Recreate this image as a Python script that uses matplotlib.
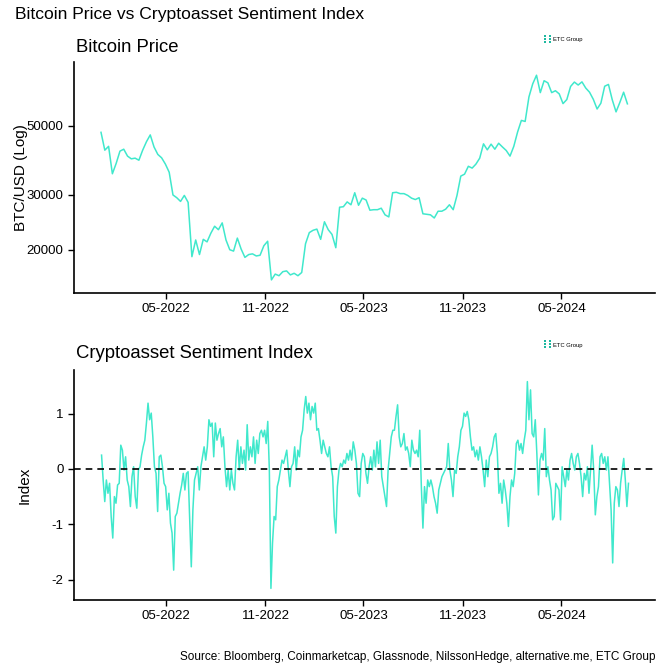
import numpy as np
import pandas as pd
import matplotlib
matplotlib.use("Agg")
import matplotlib.pyplot as plt
import matplotlib.dates as mdates
import matplotlib.ticker as mticker
from matplotlib.patches import Rectangle

plt.rcParams['font.family'] = ['Liberation Sans', 'DejaVu Sans']
plt.rcParams['axes.unicode_minus'] = False

LINE = "#40E8CC"

# weekly BTC/USD, first value 2022-01-01, every 7 days
btc_2022 = [47700, 41800, 43000, 35100, 37900, 41500, 42100, 40000, 39200, 39400,
            38800, 41800, 44500, 46800, 42800, 40500, 39500, 37700, 35500, 30000,
            29400, 28600, 29900, 28400, 19000, 21500, 19300, 21600, 21200, 22600,
            23800, 23200, 24400, 21500, 20000, 19800, 21800, 20100, 18900, 19300,
            19400, 19100, 19200, 20600, 21300, 16000, 16700, 16500, 17000, 17100,
            16600, 16800, 16500]
btc_2023 = [16900, 20900, 22700, 23100, 23300, 21600, 24600, 23200, 22400, 20300,
            27400, 27500, 28500, 27900, 30500, 27800, 29300, 28900, 26800, 26900,
            26900, 27200, 25900, 25500, 30500, 30600, 30300, 30300, 29900, 29300,
            29000, 29400, 26100, 26000, 25900, 25300, 26600, 26600, 27000, 27900,
            26900, 29900, 34500, 35000, 37100, 36600, 37700, 39400, 43800, 41900,
            43700, 42100]
btc_2024 = [44000, 42800, 41700, 40000, 43000, 47800, 52100, 51700, 62000, 68300,
            72800, 64000, 69900, 68800, 64000, 64900, 63400, 59000, 60800, 67000,
            69200, 67700, 69300, 66200, 64200, 60900, 56700, 59200, 67100, 68000,
            60700, 55500, 59500, 64200, 58900]

# sentiment index, four stretches (start, end, values)
sent_a = ("2022-01-02", "2022-08-24", [
    0.25, -0.20, -0.59, -0.20, -0.44, -0.26, -0.86, -1.25, -0.50, -0.62,
    -0.29, -0.26, 0.43, 0.34, -0.02, 0.22, -0.20, -0.32, -0.68, -0.14,
    0.04, -0.50, -0.71, -0.02, 0.04, 0.25, 0.40, 0.52, 0.83, 1.19,
    0.89, 1.01, 0.58, 0.04, -0.08, -0.77, 0.22, 0.25, 0.04, -0.26,
    -0.32, -0.74, -0.44, -0.98, -1.16, -1.83, -0.86, -0.80, -0.62, -0.44,
    -0.29, -0.08, -0.38, -0.08, -0.05, -0.92, -1.77, -0.74, -0.20, -0.08,
    0.04, -0.38, 0.04, 0.22, 0.40, 0.16, 0.40, 0.89, 0.77, 0.83,
    0.22, 0.83, 0.52, 0.64, 0.73, 0.40, 0.58, 0.04, -0.32, -0.02])
sent_b = ("2022-08-27", "2023-04-21", [
    -0.38, -0.02, -0.26, -0.38, 0.22, 0.52, -0.02, 0.40, 0.10, 0.34,
    -0.02, 0.80, 0.16, 0.40, 0.22, 0.58, 0.10, 0.52, 0.28, 0.64,
    0.70, 0.58, 0.70, 0.46, 0.86, -0.02, -2.16, -1.34, -0.86, -0.92,
    -0.32, -0.20, -0.02, 0.16, 0.10, 0.22, 0.34, -0.02, -0.32, 0.04,
    0.10, 0.40, -0.02, 0.34, 0.22, 0.58, 0.70, 1.07, 1.31, 1.01,
    1.19, 0.89, 1.13, 1.01, 1.19, 0.70, 0.73, 0.52, 0.28, 0.52,
    0.40, 0.28, 0.22, 0.40, 0.04, -0.14, -0.86, -1.16, -0.32, -0.02,
    0.10, 0.04, 0.16, 0.10, 0.28, 0.16, 0.34, 0.16, 0.49, 0.34,
    0.10, -0.44])
sent_c = ("2023-04-24", "2023-12-17", [
    -0.50, 0.10, 0.28, 0.22, -0.08, -0.26, 0.04, 0.22, -0.02, 0.34,
    0.04, 0.49, 0.10, 0.52, -0.14, -0.32, -0.50, -0.68, -0.02, 0.28,
    0.58, 0.70, 0.70, 0.95, 1.16, 0.58, 0.40, 0.46, 0.64, 0.34,
    0.40, 0.28, 0.04, 0.52, 0.34, 0.28, 0.34, 0.22, 0.70, -0.32,
    -1.07, -0.32, -0.62, -0.20, -0.32, -0.20, -0.32, -0.50, -0.62, -0.80,
    -0.38, -0.26, -0.14, -0.08, -0.02, 0.04, 0.46, -0.02, -0.20, -0.50,
    -0.02, -0.08, 0.22, 0.40, 0.70, 0.77, 1.01, 0.95, 1.04, 0.89,
    0.58, 0.34, 0.40, 0.22, 0.34, 0.16, 0.40, 0.22, -0.02, -0.32,
    0.16, -0.14])
sent_d = ("2023-12-20", "2024-09-02", [
    0.22, 0.28, 0.40, 0.58, 0.64, 0.28, -0.44, -0.26, -0.62, -0.20,
    -0.38, -0.62, -1.04, -0.50, -0.20, -0.32, -0.08, 0.46, 0.52, 0.34,
    0.46, 0.28, 0.52, 0.70, 1.58, 0.89, 1.43, 0.64, 0.58, 0.89,
    0.28, -0.47, 0.16, 0.28, 0.16, 0.73, -0.14, 0.04, -0.20, -0.38,
    -0.92, -0.86, -0.26, -0.32, -0.38, -0.92, 0.04, -0.14, -0.32, -0.02,
    -0.20, 0.16, 0.28, 0.10, -0.02, 0.22, 0.28, 0.10, -0.14, -0.50,
    -0.08, -0.20, 0.04, -0.44, -0.02, 0.43, -0.02, -0.83, -0.50, -0.32,
    0.22, 0.28, 0.10, 0.22, -0.02, 0.22, -0.26, -0.74, -1.70, -0.62,
    -0.32, -0.38, -0.68, -0.26, -0.02, 0.19, -0.20, -0.68, -0.26])

btc = btc_2022 + btc_2023 + btc_2024
btc_dates = pd.date_range("2022-01-01", periods=len(btc), freq="7D")

sent_dates = []
sent = []
for start, end, vals in (sent_a, sent_b, sent_c, sent_d):
    sent_dates.extend(pd.date_range(start, end, periods=len(vals)))
    sent.extend(vals)

xmin, xmax = pd.Timestamp("2021-11-12"), pd.Timestamp("2024-10-21")

fig = plt.figure(figsize=(6.7, 6.7), dpi=100)
ax1 = fig.add_axes([0.1104, 0.5627, 0.8672, 0.3448])
ax2 = fig.add_axes([0.1104, 0.1045, 0.8672, 0.3433])

ax1.plot(btc_dates, btc, color=LINE, lw=1.1)
ax1.set_yscale("log")
ax1.set_ylim(14520, 80300)
ax1.yaxis.set_major_locator(mticker.FixedLocator([20000, 30000, 50000]))
ax1.yaxis.set_major_formatter(mticker.FuncFormatter(lambda v, p: "%d" % v))
ax1.yaxis.set_minor_locator(mticker.NullLocator())
ax1.set_ylabel("BTC/USD (Log)", fontsize=11, labelpad=-1)

ax2.plot(sent_dates, sent, color=LINE, lw=1.1)
ax2.axhline(0, color="black", lw=1.2, ls=(0, (4, 3)))
ax2.set_ylim(-2.37, 1.79)
ax2.set_yticks([-2, -1, 0, 1])
ax2.set_ylabel("Index", fontsize=11, labelpad=14)

for ax in (ax1, ax2):
    ax.set_xlim(xmin, xmax)
    ax.xaxis.set_major_locator(mdates.MonthLocator(bymonth=[5, 11]))
    ax.xaxis.set_major_formatter(mdates.DateFormatter("%m-%Y"))
    for s in ("top", "right"):
        ax.spines[s].set_visible(False)
    for s in ("left", "bottom"):
        ax.spines[s].set_linewidth(1.2)
    ax.tick_params(direction="out", length=4, width=1, labelsize=9.5, colors="black")

fig.text(15 / 670, 1 - 15 / 670, "Bitcoin Price vs Cryptoasset Sentiment Index",
         fontsize=12.6, va="center", ha="left")
fig.text(76 / 670, 1 - 47 / 670, "Bitcoin Price", fontsize=13.3, va="center", ha="left")
fig.text(76 / 670, 1 - 353 / 670, "Cryptoasset Sentiment Index", fontsize=13.3,
         va="center", ha="left")

# small ETC Group marks
for ytop in (35, 340):
    for col in (0, 5):
        for row in (0, 3, 6):
            fig.patches.append(Rectangle(((544 + col) / 670, 1 - (ytop + row + 2) / 670),
                                         2 / 670, 1.8 / 670, color="#1db8a0", lw=0,
                                         transform=fig.transFigure, figure=fig))
    fig.text(553 / 670, 1 - (ytop + 5) / 670, "ETC Group", fontsize=4.2,
             va="center", ha="left")

fig.text(655 / 670, 1 - 657 / 670,
         "Source: Bloomberg, Coinmarketcap, Glassnode, NilssonHedge, alternative.me, ETC Group",
         fontsize=8.45, va="center", ha="right")

fig.savefig("out.png", dpi=100)
